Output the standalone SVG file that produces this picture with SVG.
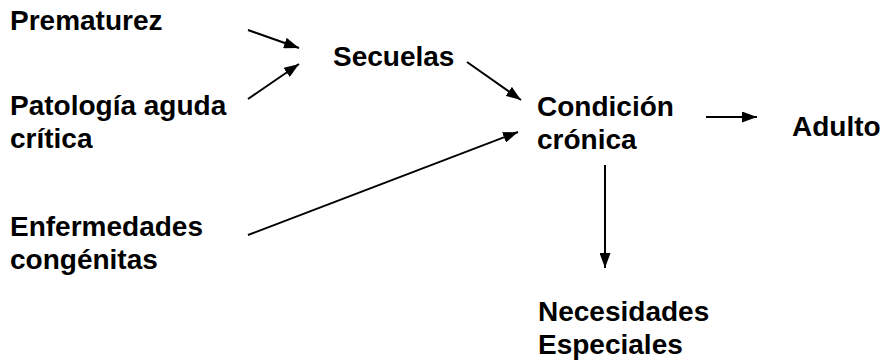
<svg xmlns="http://www.w3.org/2000/svg" width="882" height="363" viewBox="0 0 882 363">
<style>
text{font-family:"Liberation Sans",Arial,sans-serif;font-weight:bold;font-size:28px;fill:#000}
.c{stroke:#000;stroke-width:2;fill:none}
</style>
<defs>
<marker id="ah" viewBox="0 0 15 11" refX="15" refY="5.5" markerWidth="15" markerHeight="11" markerUnits="userSpaceOnUse" orient="auto">
<path d="M0,0L15,5.5L0,11z" fill="#000"/>
</marker>
</defs>
<rect width="882" height="363" fill="#fff"/>
<g id="connectors">
<line class="c" x1="248" y1="30" x2="299" y2="48" marker-end="url(#ah)"/>
<line class="c" x1="248" y1="99" x2="299" y2="64" marker-end="url(#ah)"/>
<line class="c" x1="467" y1="62" x2="521" y2="100" marker-end="url(#ah)"/>
<line class="c" x1="248" y1="235" x2="518" y2="132" marker-end="url(#ah)"/>
<line class="c" x1="706" y1="117" x2="757" y2="117" marker-end="url(#ah)"/>
<line class="c" x1="605" y1="165" x2="605" y2="268" marker-end="url(#ah)"/>
</g>
<g id="prematurez"><text x="10" y="30">Prematurez</text></g>
<g id="patologia"><text x="10" y="115">Patología aguda</text><text x="10" y="148">crítica</text></g>
<g id="secuelas"><text x="333" y="66">Secuelas</text></g>
<g id="condicion"><text x="537" y="116">Condición</text><text x="537" y="149">crónica</text></g>
<g id="adulto"><text x="792" y="136">Adulto</text></g>
<g id="enfermedades"><text x="10" y="236">Enfermedades</text><text x="10" y="269">congénitas</text></g>
<g id="necesidades"><text x="538" y="321">Necesidades</text><text x="538" y="354">Especiales</text></g>
</svg>
